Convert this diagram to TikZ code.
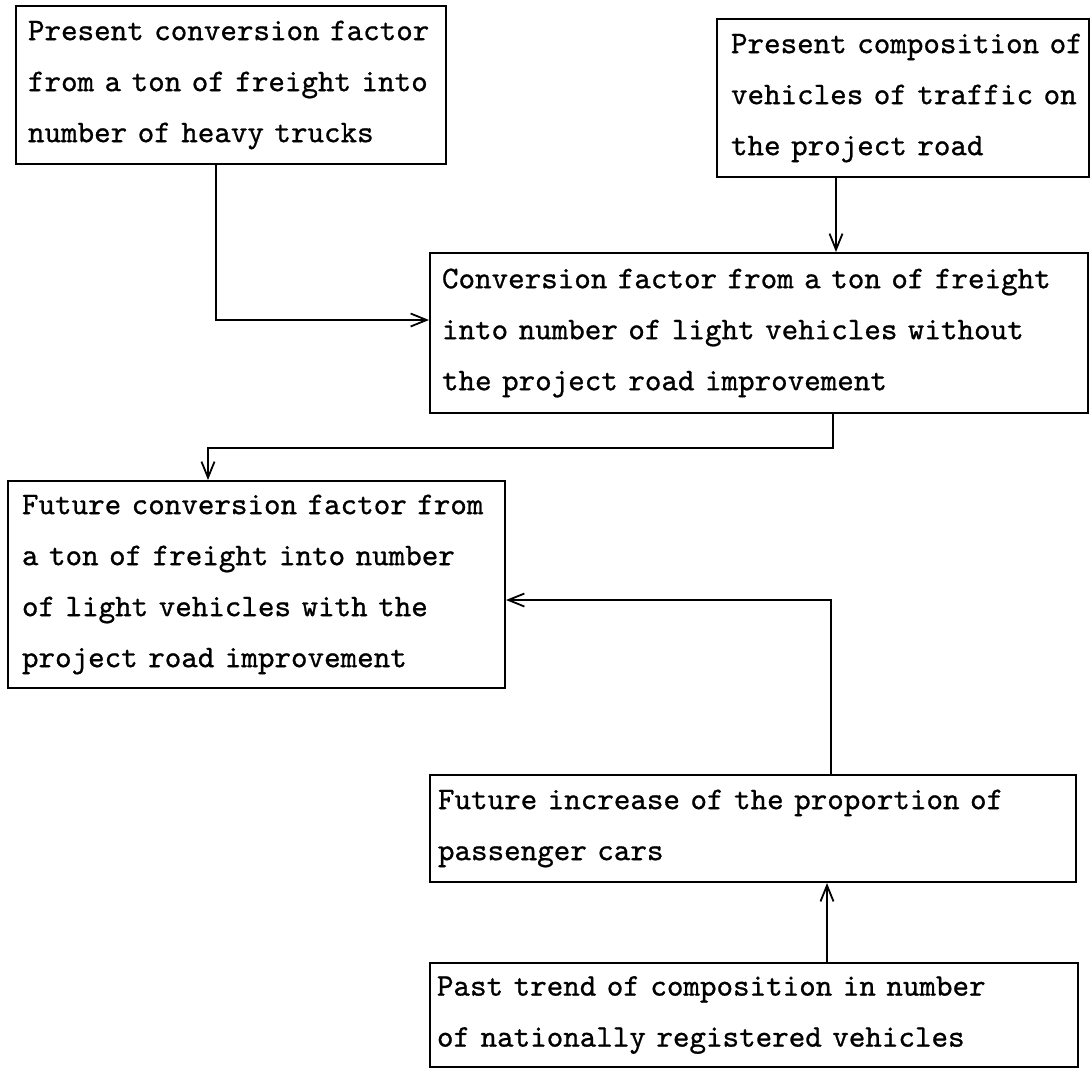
\documentclass[tikz,border=0pt]{standalone}
\usepackage{fontspec}
\usetikzlibrary{arrows.meta}

% typewriter face, slightly emboldened
\newfontfamily\typewriter{lmmono10-regular.otf}[FakeBold=0.8]

\tikzset{
  box/.style={draw, line width=1pt, rectangle, align=left, anchor=center,
    font=\typewriter\fontsize{15.75}{25.5}\selectfont},
  arr/.style={line width=1pt, -{Straight Barb[length=8pt,width=6.5pt,line width=0.9pt]}}
}
% one typed line, never broken
\newcommand\tline[1]{\mbox{#1}}

\begin{document}
\begin{tikzpicture}[x=0.5pt, y=-0.5pt]
  % page frame
  \fill[white] (0,0) rectangle (1091,1083);
  \useasboundingbox (0,0) rectangle (1091,1083);

  % boxes
  \node[box, inner xsep=6pt, text width=203pt, minimum height=79pt] (b1) at (231,85)
    {\tline{Present conversion factor}\\\tline{from a ton of freight into}\\\tline{number of heavy trucks}};
  \node[box, inner xsep=7pt, text width=172pt, minimum height=79pt] (b2) at (903,98)
    {\tline{Present composition of}\\\tline{vehicles of traffic on}\\\tline{the project road}};
  \node[box, inner xsep=6pt, text width=317pt, minimum height=80pt] (b3) at (759,333)
    {\tline{Conversion factor from a ton of freight}\\\tline{into number of light vehicles without}\\\tline{the project road improvement}};
  \node[box, inner xsep=7pt, text width=234.5pt, minimum height=103.5pt] (b4) at (256.5,584.5)
    {\tline{Future conversion factor from}\\\tline{a ton of freight into number}\\\tline{of light vehicles with the}\\\tline{project road improvement}};
  \node[box, inner xsep=4pt, text width=315pt, minimum height=53.5pt] (b5) at (753,828.5)
    {\tline{Future increase of the proportion of}\\\tline{passenger cars}};
  \node[box, inner xsep=3.5pt, text width=317pt, minimum height=52pt] (b6) at (754,1015)
    {\tline{Past trend of composition in number}\\\tline{of nationally registered vehicles}};

  % connectors
  \draw[arr] ([xshift=-7.5pt]b1.south) |- ([yshift=6.5pt]b3.west);
  \draw[arr] ([xshift=-33.5pt]b2.south) -- ([xshift=-33.5pt]b2.south |- b3.north);
  \coordinate (k3) at ([xshift=37pt,yshift=-17pt]b3.south);
  \draw[arr] ([xshift=37pt]b3.south) -- (k3) -| ([xshift=-24.25pt]b4.north);
  \draw[arr] ([xshift=39pt]b5.north) |- ([yshift=-7.75pt]b4.east);
  \draw[arr] ([xshift=36.5pt]b6.north) -- ([xshift=36.5pt]b6.north |- b5.south);
\end{tikzpicture}
\end{document}
